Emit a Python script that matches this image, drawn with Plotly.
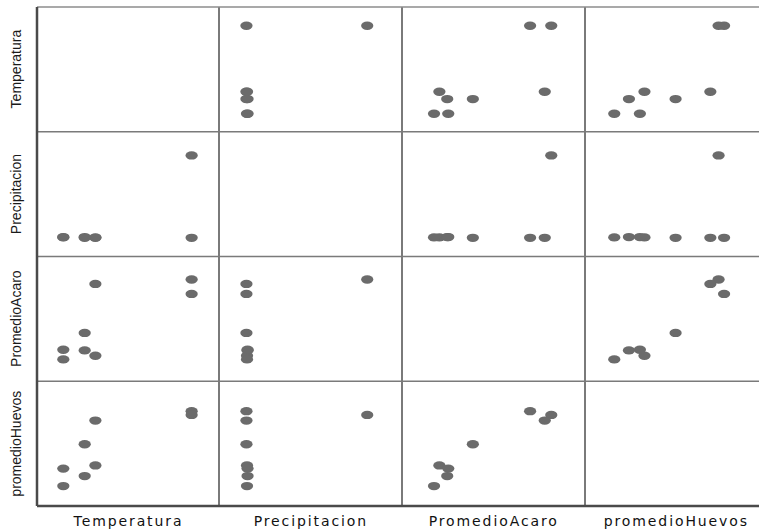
import plotly.graph_objects as go
from plotly.subplots import make_subplots

# ---- data ----
variables = ["Temperatura", "Precipitacion", "PromedioAcaro", "promedioHuevos"]
temperatura = [28.0, 28.0, 23.5, 23.5, 23.0, 23.0, 22.0, 22.0]
precipitacion = [10.0, 120.0, 10.0, 10.5, 10.0, 11.0, 11.0, 10.5]
promedio_acaro = [7.80, 9.42, 8.92, 0.86, 3.42, 1.46, 1.54, 0.45]
promedio_huevos = [15.2, 14.6, 13.7, 6.5, 9.9, 4.8, 6.0, 3.2]

series = [temperatura, precipitacion, promedio_acaro, promedio_huevos]

# ---- styling / layout ----
W, H = 759, 531
ML, MT, MB = 37, 7, 25
axis_ranges = [[20.77, 29.28], [-15.0, 151.67], [-2.0, 12.0], [0.0, 20.0]]
col_edges = [37, 219, 402, 585, 768]          # nominal cell edges (last cell runs past the page)
visible_right = W
col_widths = [col_edges[i + 1] - col_edges[i] for i in range(4)]
col_widths[-1] = visible_right - col_edges[3]

n = len(variables)
fig = make_subplots(rows=n, cols=n, horizontal_spacing=0, vertical_spacing=0,
                    column_widths=col_widths)

marker_color = "#6b6b6b"
line_color = "#7a7a7a"

for r in range(n):
    for c in range(n):
        if r != c:
            fig.add_trace(go.Scatter(
                x=series[c], y=series[r], mode="markers",
                marker=dict(size=9.8, color=marker_color, line=dict(width=0)),
                showlegend=False, hoverinfo="skip"),
                row=r + 1, col=c + 1)
        lo, hi = axis_ranges[c]
        frac = (min(col_edges[c + 1], visible_right) - col_edges[c]) / (col_edges[c + 1] - col_edges[c])
        xr = [lo, lo + (hi - lo) * frac]
        fig.update_xaxes(range=xr, showticklabels=False, ticks="", showgrid=False,
                         zeroline=False, showline=False, fixedrange=True,
                         row=r + 1, col=c + 1)
        fig.update_yaxes(range=axis_ranges[r], showticklabels=False, ticks="", showgrid=False,
                         zeroline=False, showline=False, fixedrange=True,
                         row=r + 1, col=c + 1)

plot_w = W - ML
plot_h = H - MT - MB
annotations = []
for i, name in enumerate(variables):
    cx = (col_edges[i] + col_edges[i + 1]) / 2
    annotations.append(dict(
        text=name, xref="paper", yref="paper",
        x=(cx - ML) / plot_w, y=-(520.5 - (H - MB)) / plot_h,
        xanchor="center", yanchor="middle", showarrow=False,
        font=dict(family="DejaVu Sans, Arial, sans-serif", size=14, color="#111111")))
for i, name in enumerate(variables):
    cy = 1 - (i + 0.5) / n
    annotations.append(dict(
        text=name, xref="paper", yref="paper",
        x=-(ML - 16) / plot_w, y=cy, textangle=-90,
        xanchor="center", yanchor="middle", showarrow=False,
        font=dict(family="Liberation Sans, Arial, sans-serif", size=14, color="#1a1a1a")))

shapes = []
# inner vertical cell borders
for e in col_edges[1:4]:
    xp = (e - ML) / plot_w
    shapes.append(dict(type="line", xref="paper", yref="paper", x0=xp, x1=xp, y0=0, y1=1,
                       line=dict(color=line_color, width=2)))
# horizontal cell borders (top edge + inner)
for k in range(n):
    yp = 1 - k / n
    shapes.append(dict(type="line", xref="paper", yref="paper", x0=0, x1=1, y0=yp, y1=yp,
                       line=dict(color="#8c8c8c" if k == 0 else line_color, width=1.6)))
# darker outer left / bottom frame
shapes.append(dict(type="line", xref="paper", yref="paper", x0=0, x1=0, y0=0, y1=1,
                   line=dict(color="#4a4a4a", width=2.5)))
shapes.append(dict(type="line", xref="paper", yref="paper", x0=0, x1=1, y0=0, y1=0,
                   line=dict(color="#4a4a4a", width=2.5)))

fig.update_layout(
    width=W, height=H,
    margin=dict(l=ML, r=0, t=MT, b=MB),
    paper_bgcolor="white", plot_bgcolor="white",
    annotations=annotations, shapes=shapes,
    showlegend=False,
)

post = """
document.body.style.margin = '0';
document.querySelectorAll('g.annotation').forEach(function (g) {
  var i = +g.getAttribute('data-index');
  if (i < 4) {
    var t = g.querySelector('text.annotation-text');
    if (t) { t.setAttribute('letter-spacing', '1.9px'); }
  }
});
document.querySelectorAll('path.point').forEach(function (p) {
  var tr = p.getAttribute('transform') || '';
  p.setAttribute('transform', tr + ' scale(1.25,0.85)');
});
"""

fig.write_html("out.html", post_script=post, config={"displayModeBar": False, "staticPlot": True})
